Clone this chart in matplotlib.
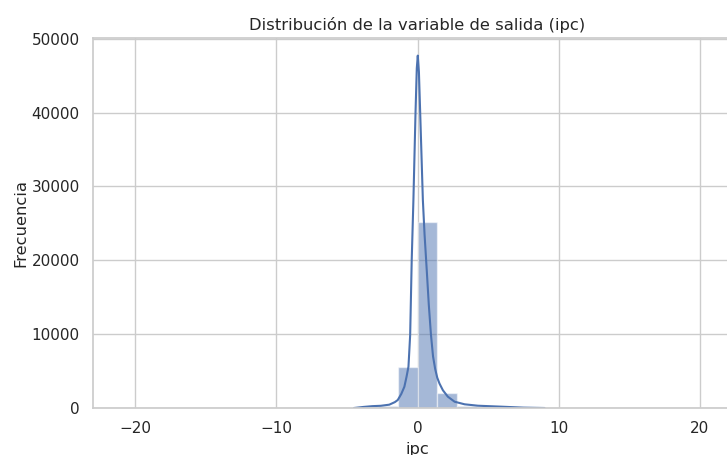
import numpy as np
import matplotlib
matplotlib.use("Agg")
import matplotlib.pyplot as plt
import seaborn as sns

# histogram: 30 bins over the data range
x_min, x_max = -20.9, 20.9
counts = [2, 1, 1, 2, 3, 3, 4, 6, 8, 10, 14, 22, 70, 220, 5600,
          25150, 1990, 320, 110, 40, 15, 8, 5, 4, 3, 2, 2, 1, 1, 2]

# kde curve (scaled to counts)
kde_x = [-4.5, -3.8, -3.2, -2.6, -2.0, -1.6, -1.4, -1.15, -0.93, -0.78, -0.64,
         -0.52, -0.41, -0.29, -0.14, -0.05, 0.02, 0.1, 0.19, 0.38, 0.5, 0.66,
         0.8, 0.95, 1.1, 1.25, 1.4, 1.56, 1.8, 2.15, 2.63, 3.34, 4.28, 5.94, 7.5, 9.0]
kde_y = [0, 150, 250, 300, 450, 800, 1080, 1900, 2880, 4200, 5590,
         9880, 20000, 28150, 40000, 46000, 47700, 45500, 40000, 28150, 23500, 18500,
         14000, 10000, 7000, 5300, 4100, 3300, 2400, 1530, 850, 500, 310, 180, 50, 0]

sns.set_theme(style="whitegrid")
plt.rcParams['font.family'] = ['DejaVu Sans']

fig = plt.figure(figsize=(7.27, 4.55), dpi=100)
ax = fig.add_axes([93 / 727, 1 - 408 / 455, (742 - 93) / 727, (408 - 38) / 455])

edges = np.linspace(x_min, x_max, len(counts) + 1)
ax.bar(edges[:-1], counts, width=np.diff(edges), align='edge',
       color='#4c72b0', alpha=0.5, edgecolor='white', linewidth=1)
ax.plot(kde_x, kde_y, color='#4c72b0', linewidth=1.5)

ax.set_xticks([-20, -10, 0, 10, 20])
ax.set_title('Distribución de la variable de salida (ipc)', fontsize=11.8)
ax.set_xlabel('ipc', fontsize=11.8)
ax.set_ylabel('Frecuencia', fontsize=11.8, labelpad=2)
ax.tick_params(labelsize=11)

fig.savefig('out.png', dpi=100)
